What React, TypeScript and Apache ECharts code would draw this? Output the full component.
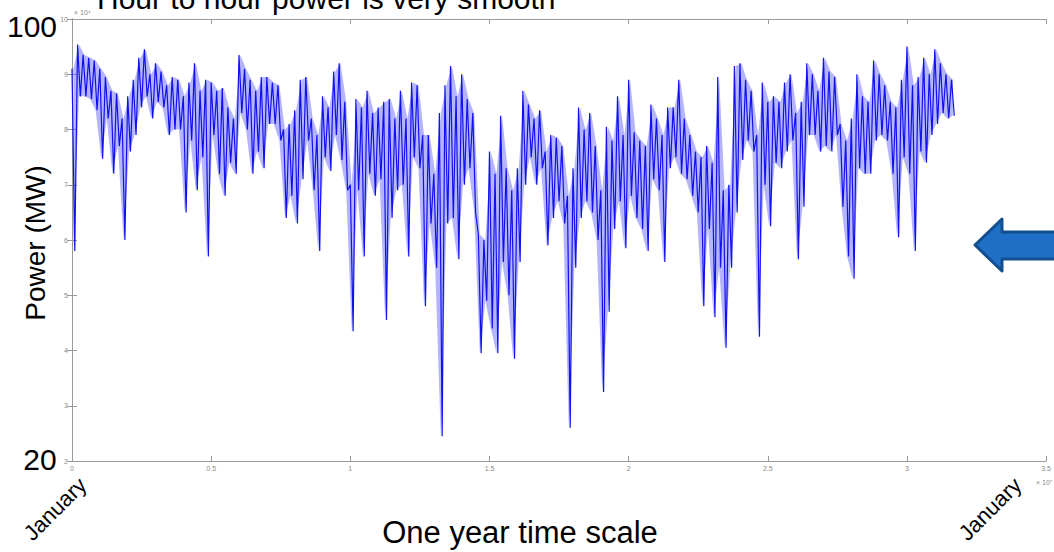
import React, { useEffect, useRef } from "react";
import * as echarts from "echarts";

// sampling step of the read-off envelope, in units of 10^7 s
const SAMPLE_STEP = 0.02;

// upper envelope of power in each sample bin (x 10^4 kW)
const binHigh = [
  9.1, 9.54, 9.35, 9.3, 9.25, 9.1, 8.95, 8.7, 8.65, 8.2,
  8.6, 8.9, 9.3, 9.45, 9.0, 9.2, 9.05, 8.8, 8.95, 8.9,
  8.6, 8.85, 9.2, 8.7, 8.9, 8.85, 8.7, 8.75, 8.4, 8.2,
  9.35, 9.1, 8.9, 8.7, 8.95, 8.95, 8.85, 8.8, 8.0, 8.1,
  8.35, 8.9, 8.95, 8.2, 7.9, 8.6, 8.4, 9.05, 9.2, 8.5,
  7.0, 8.55, 8.4, 8.7, 8.3, 8.4, 8.5, 8.55, 8.2, 8.7,
  8.2, 8.85, 8.8, 7.9, 7.9, 7.2, 8.3, 8.8, 9.15, 8.6,
  9.0, 8.55, 8.3, 6.1, 6.0, 7.6, 7.2, 8.25, 7.3, 6.9,
  7.3, 8.7, 8.45, 8.2, 8.35, 7.6, 7.9, 7.85, 7.7, 6.8,
  7.3, 8.4, 8.0, 8.3, 7.7, 6.9, 8.05, 7.8, 8.6, 7.9,
  8.9, 7.95, 7.8, 7.7, 8.45, 8.2, 7.9, 8.4, 8.4, 8.9,
  8.2, 7.9, 7.6, 7.5, 7.7, 7.4, 8.95, 6.9, 7.0, 9.15,
  9.2, 8.9, 8.7, 7.9, 8.85, 8.5, 8.6, 8.5, 8.85, 9.0,
  8.3, 8.5, 9.2, 9.0, 8.7, 9.3, 9.05, 8.95, 8.1, 7.8,
  8.2, 9.0, 8.6, 8.5, 9.25, 9.0, 8.8, 8.5, 8.4, 8.9,
  9.5, 8.8, 8.95, 9.3, 9.0, 9.45, 9.2, 9.0, 8.9,
];

// lower envelope (deepest dip) in each sample bin (x 10^4 kW)
const binLow = [
  5.8, 8.6, 8.6, 8.55, 8.35, 7.47, 8.2, 7.2, 7.7, 6.0,
  7.6, 7.9, 8.4, 8.6, 8.2, 8.5, 8.4, 7.9, 8.0, 8.0,
  6.5, 7.8, 6.9, 7.5, 5.7, 7.9, 7.2, 6.8, 7.4, 7.2,
  8.3, 8.0, 7.2, 7.6, 7.3, 8.1, 8.1, 7.8, 6.4, 6.8,
  6.3, 7.1, 7.8, 6.9, 5.8, 7.5, 7.25, 7.9, 7.45, 6.9,
  4.35, 6.9, 5.7, 7.2, 6.8, 7.1, 4.55, 6.4, 6.9, 7.0,
  5.7, 7.5, 7.3, 4.8, 6.3, 5.5, 2.45, 6.3, 6.4, 5.65,
  7.0, 7.3, 6.5, 3.95, 4.9, 4.4, 3.95, 5.6, 5.0, 3.85,
  5.6, 7.0, 7.5, 7.0, 7.3, 5.9, 6.4, 6.7, 6.3, 2.6,
  5.5, 6.4, 6.7, 6.5, 6.0, 3.25, 4.7, 6.2, 6.7, 5.85,
  6.8, 6.4, 6.2, 5.8, 7.1, 6.9, 5.6, 7.3, 7.5, 7.2,
  7.1, 6.8, 6.5, 4.8, 6.2, 4.6, 5.5, 4.05, 5.5, 6.5,
  7.45, 7.8, 7.6, 4.25, 7.0, 6.25, 7.4, 7.3, 7.6, 7.8,
  5.65, 6.6, 7.9, 7.9, 7.6, 7.7, 7.6, 7.9, 6.6, 5.7,
  5.3, 7.3, 7.2, 7.2, 7.8, 7.9, 7.8, 7.2, 6.05, 7.5,
  7.2, 5.8, 7.6, 7.4, 7.9, 8.1, 8.3, 8.2, 8.25,
];

const X_MIN = 0;
const X_MAX = 3.5;
const X_INTERVAL = 0.5;
const Y_MIN = 2;
const Y_MAX = 10;
const Y_INTERVAL = 1;

const TITLE = "Hour to hour power is very smooth";
const Y_TOP_LABEL = "100";
const Y_BOTTOM_LABEL = "20";
const Y_NAME = "Power (MW)";
const X_NAME = "One year time scale";
const MONTH_LABEL = "January";

const FONT = "'Liberation Sans', Arial, Helvetica, sans-serif";

function buildLine(): number[][] {
  const pts: number[][] = [];
  for (let i = 0; i < binHigh.length; i++) {
    const t = i * SAMPLE_STEP;
    pts.push([t, binHigh[i]]);
    pts.push([t + SAMPLE_STEP / 2, binLow[i]]);
  }
  return pts;
}

function buildBand(): number[][] {
  return binHigh.map((v, i) => [i * SAMPLE_STEP, v, binLow[i]]);
}

function fmt(v: number): string {
  return String(Math.round(v * 10) / 10);
}

export default function App() {
  const ref = useRef<HTMLDivElement>(null);

  useEffect(() => {
    if (!ref.current) return;
    const chart = echarts.init(ref.current, undefined, { renderer: "svg" });
    const axisGray = "#9a9a9a";
    const tickLabel = { fontSize: 7, color: "#8a8a8a", fontFamily: FONT };

    const bigText = (text: string, x: number, y: number, size: number, rot = 0, align = "center") => ({
      type: "text",
      x,
      y,
      rotation: rot,
      z: 100,
      style: {
        text,
        x: 0,
        y: 0,
        fill: "#000",
        font: `${size}px ${FONT}`,
        fontSize: size,
        fontFamily: FONT,
        align,
        textAlign: align,
        verticalAlign: "middle",
        textVerticalAlign: "middle",
      },
    });

    const axisCommon = {
      axisLine: { show: true, lineStyle: { color: axisGray, width: 1 } },
      axisTick: { show: true, inside: true, length: 5, lineStyle: { color: axisGray } },
      splitLine: { show: false },
    };

    const band = buildBand();

    const option: any = {
      animation: false,
      backgroundColor: "#ffffff",
      grid: { left: 72, right: 3, top: 19, bottom: 91, containLabel: false },
      xAxis: [
        {
          type: "value",
          min: X_MIN,
          max: X_MAX,
          interval: X_INTERVAL,
          ...axisCommon,
          axisLabel: { ...tickLabel, margin: 4, formatter: fmt, showMaxLabel: true },
        },
        {
          type: "value",
          position: "top",
          min: X_MIN,
          max: X_MAX,
          interval: X_INTERVAL,
          ...axisCommon,
          axisLabel: { show: false },
        },
      ],
      yAxis: [
        {
          type: "value",
          min: Y_MIN,
          max: Y_MAX,
          interval: Y_INTERVAL,
          ...axisCommon,
          axisLabel: { ...tickLabel, margin: 4, formatter: fmt },
        },
        {
          type: "value",
          position: "right",
          min: Y_MIN,
          max: Y_MAX,
          interval: Y_INTERVAL,
          ...axisCommon,
          axisLabel: { show: false },
        },
      ],
      series: [
        {
          type: "custom",
          name: "band",
          data: band,
          encode: { x: 0, y: [1, 2] },
          silent: true,
          renderItem: (params: any, api: any) => {
            const i = params.dataIndex;
            if (i >= band.length - 1) return null;
            const a = band[i];
            const b = band[i + 1];
            const ta = a[0] + SAMPLE_STEP / 4;
            const tb = b[0] + SAMPLE_STEP / 4;
            const pts = [
              api.coord([ta, a[1]]),
              api.coord([tb, b[1]]),
              api.coord([tb, b[2]]),
              api.coord([ta, a[2]]),
            ];
            return {
              type: "polygon",
              shape: { points: pts },
              style: { fill: "rgba(70, 70, 255, 0.4)" },
            };
          },
        },
        {
          type: "line",
          name: "power",
          data: buildLine(),
          symbol: "none",
          showSymbol: false,
          lineStyle: { color: "#1010f0", width: 1.2 },
          silent: true,
        },
      ],
      graphic: [
        bigText(TITLE, 97, -2, 30, 0, "left"),
        bigText(Y_TOP_LABEL, 32, 26, 30),
        bigText(Y_BOTTOM_LABEL, 40, 459, 30),
        bigText(Y_NAME, 35, 243, 28, Math.PI / 2),
        bigText(X_NAME, 520, 532, 31),
        bigText(MONTH_LABEL, 55, 509, 22, Math.PI / 4),
        bigText(MONTH_LABEL, 990, 509, 22, Math.PI / 4),
        {
          type: "text",
          x: 74,
          y: 12,
          z: 100,
          style: { text: "× 10⁴", fill: "#8a8a8a", font: `7px ${FONT}`, align: "left", verticalAlign: "middle" },
        },
        {
          type: "text",
          x: 1036,
          y: 482,
          z: 100,
          style: { text: "× 10⁷", fill: "#8a8a8a", font: `7px ${FONT}`, align: "left", verticalAlign: "middle" },
        },
        {
          type: "polygon",
          z: 110,
          shape: {
            points: [
              [975, 245],
              [1002, 219],
              [1002, 232],
              [1062, 232],
              [1062, 259],
              [1002, 259],
              [1002, 271],
            ],
          },
          style: { fill: "#1f6fc6", stroke: "#134f8e", lineWidth: 3, lineJoin: "round" },
        },
      ],
    };
    chart.setOption(option);
    return () => chart.dispose();
  }, []);

  return (
    <div
      ref={ref}
      style={{ position: "fixed", left: 0, top: 0, width: 1054, height: 552, background: "#fff" }}
    />
  );
}
